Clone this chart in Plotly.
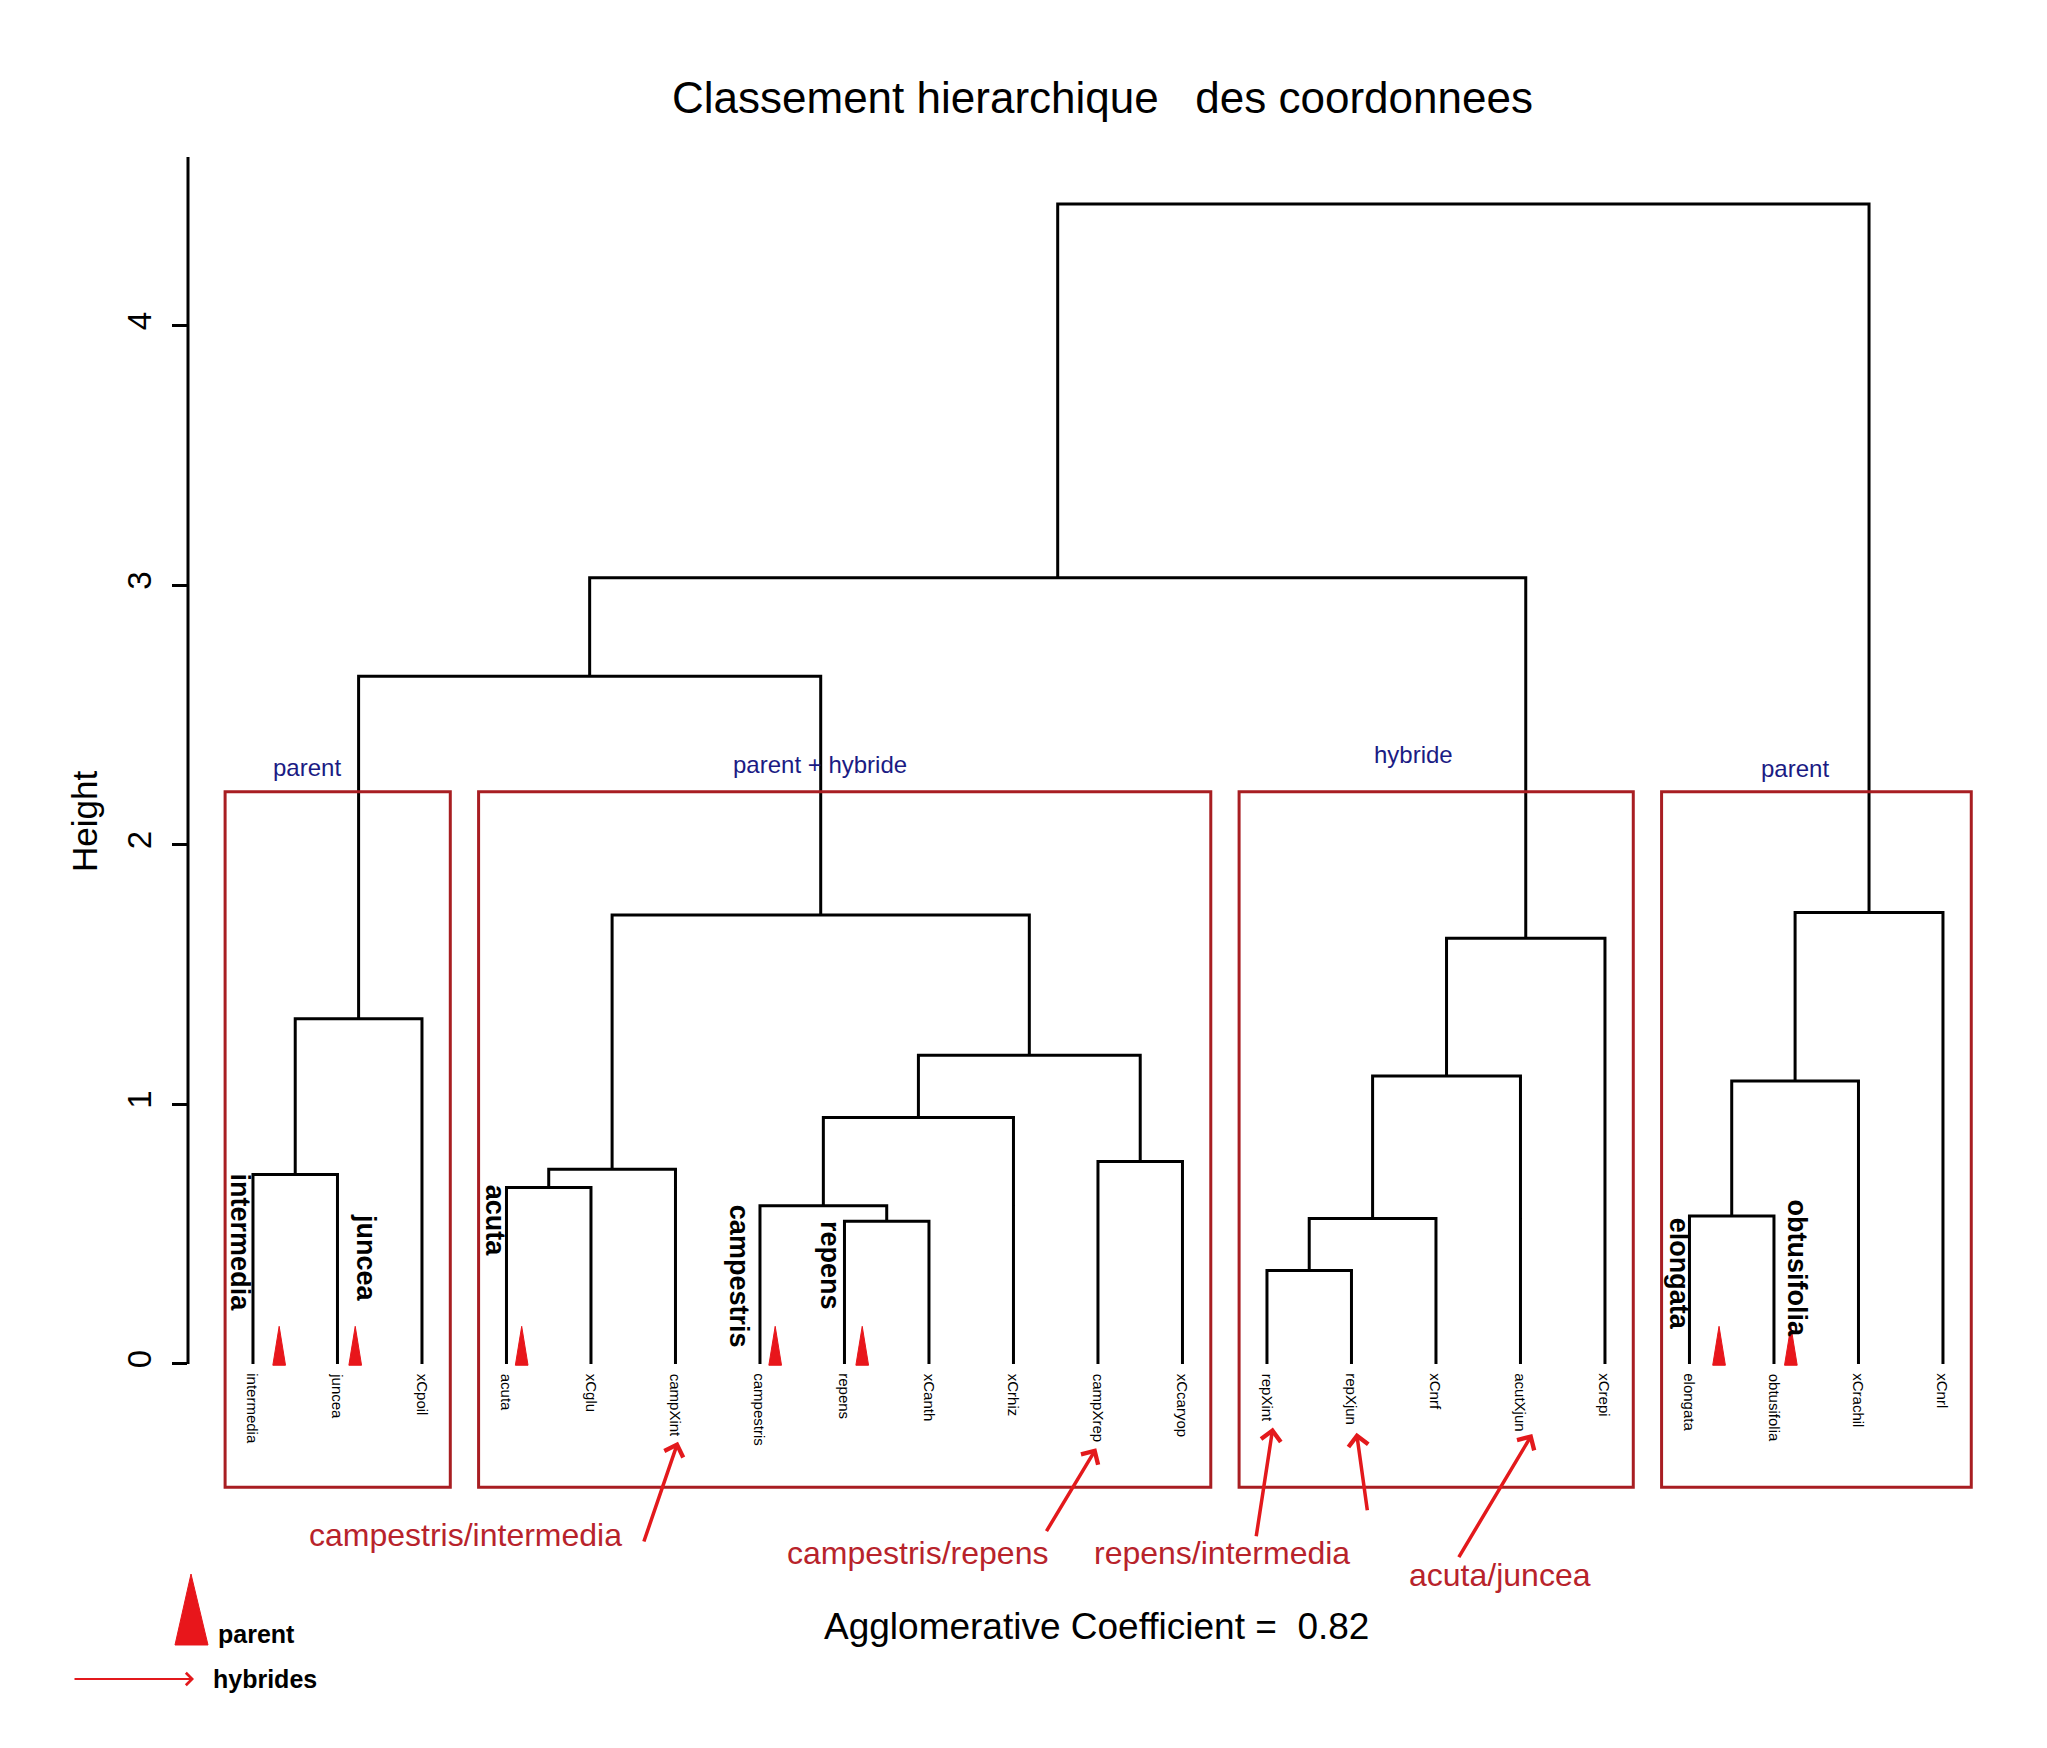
import plotly.graph_objects as go

# ---------------- data ----------------
leaf_labels = ["intermedia", "juncea", "xCpoil", "acuta", "xCglu", "campXint",
               "campestris", "repens", "xCanth", "xCrhiz", "campXrep", "xCcaryop",
               "repXint", "repXjun", "xCnrf", "acutXjun", "xCrepi",
               "elongata", "obtusifolia", "xCrachil", "xCnrl"]
# hclust-style merges: negative = leaf (1-based), positive = earlier merge (1-based)
merge_left = [-13, -8, 1, -18, -7, -4, -1, 6, -11, 5, 4, 3, 10, 7, 12, 8, 11, 14, 18, 19]
merge_right = [-14, -9, -15, -19, 2, -5, -2, -6, -12, -10, -20, -16, 9, -3, -17, 13, -21, 16, 15, 17]
merge_height = [0.36, 0.55, 0.56, 0.57, 0.61, 0.68, 0.73, 0.75, 0.78, 0.95,
                1.09, 1.11, 1.19, 1.33, 1.64, 1.73, 1.74, 2.65, 3.03, 4.47]

group_labels = ["parent", "parent + hybride", "hybride", "parent"]
group_first = ["intermedia", "acuta", "repXint", "elongata"]
group_last = ["xCpoil", "xCcaryop", "xCrepi", "xCnrl"]

parent_species = ["intermedia", "juncea", "acuta", "campestris", "repens", "elongata", "obtusifolia"]

hybrid_leaves = ["campXint", "campXrep", "repXint", "repXjun", "acutXjun"]
hybrid_texts = ["campestris/intermedia", "campestris/repens", "repens/intermedia", "acuta/juncea"]

agglomerative_coef = 0.82
y_ticks = [0, 1, 2, 3, 4]

title_text = "Classement hierarchique\u00a0\u00a0\u00a0des coordonnees"

# ---------------- geometry ----------------
W, H = 2047, 1748
OFF = 8                               # page body margin
L, R, T, B = 188, 2030, 157, 1700     # plot area in page px
x_range = [-0.769, 21.03]
y_range = [-1.295, 4.651]

pos = {name: i for i, name in enumerate(leaf_labels)}

def px_paper(px, py):
    return (px - L) / (R - L), (B - py) / (B - T)

# ---------------- dendrogram ----------------
node_x, node_h = [], []
def child(c):
    if c < 0:
        return float(-c - 1), 0.0
    return node_x[c - 1], node_h[c - 1]

xs, ys = [], []
for a, b, h in zip(merge_left, merge_right, merge_height):
    xa, ha = child(a)
    xb, hb = child(b)
    xs += [xa, xa, xb, xb, None]
    ys += [ha, h, h, hb, None]
    node_x.append((xa + xb) / 2)
    node_h.append(h)

fig = go.Figure()
fig.add_trace(go.Scatter(x=xs, y=ys, mode="lines",
                         line=dict(color="black", width=3),
                         hoverinfo="skip", showlegend=False))

annotations = []
shapes = []

FONT = "Liberation Sans, Arial, sans-serif"
BOX_RED = "#a81e22"
TXT_RED = "#b8232b"
ARR_RED = "#e3191c"
NAVY = "#1b1b84"

# leaf labels
for name in leaf_labels:
    annotations.append(dict(x=pos[name], y=-0.03, xref="x", yref="y", text=name,
                            textangle=90, showarrow=False, xanchor="center", yanchor="top",
                            font=dict(family=FONT, size=15, color="black")))

# y axis line
shapes.append(dict(type="line", xref="paper", yref="y", x0=0, x1=0, y0=0, y1=y_range[1],
                   line=dict(color="black", width=3)))

# red group boxes
for lab, f, l in zip(group_labels, group_first, group_last):
    shapes.append(dict(type="rect", xref="x", yref="y",
                       x0=pos[f] - 0.33, x1=pos[l] + 0.335, y0=-0.475, y1=2.205,
                       line=dict(color=BOX_RED, width=3)))

# blue group labels
group_label_xy = [(0.64, 2.30), (6.71, 2.31), (13.73, 2.35), (18.25, 2.295)]
for lab, (gx, gy) in zip(group_labels, group_label_xy):
    annotations.append(dict(x=gx, y=gy, xref="x", yref="y", text=lab, showarrow=False,
                            xanchor="center", yanchor="middle",
                            font=dict(family=FONT, size=24, color=NAVY)))

# big bold parent species names (rotated)
big_offsets = [(-0.15, 0.74), (0.34, 0.585), (-0.14, 0.70), (-0.24, 0.62),
               (-0.17, 0.56), (-0.12, 0.57), (0.27, 0.64)]
for name, (dx, top) in zip(parent_species, big_offsets):
    annotations.append(dict(x=pos[name] + dx, y=top, xref="x", yref="y",
                            text="<b>%s</b>" % name, textangle=90, showarrow=False,
                            xanchor="center", yanchor="top",
                            font=dict(family=FONT, size=27, color="black")))

# red triangles marking parents
tri_dx = [0.31, 0.21, 0.18, 0.18, 0.21, 0.35, 0.20]
tri_w, tri_h = 0.075, 0.145
for name, dx in zip(parent_species, tri_dx):
    cx = pos[name] + dx
    path = "M %f %f L %f %f L %f %f Z" % (cx - tri_w, -0.005, cx + tri_w, -0.005, cx, tri_h)
    shapes.append(dict(type="path", xref="x", yref="y", path=path,
                       fillcolor="#e8161b", line=dict(color="#e8161b", width=1)))

# hybrid arrows
arrow_geom = [  # (tip dx, tip y, tail x, tail y)
    (0.03, -0.30, 4.62, -0.69),
    (-0.02, -0.325, 9.38, -0.65),
    (0.07, -0.245, 11.87, -0.67),
    (0.06, -0.265, 13.19, -0.57),
    (0.14, -0.27, 14.26, -0.75),
]
for name, (dx, ty, ax, ay) in zip(hybrid_leaves, arrow_geom):
    annotations.append(dict(x=pos[name] + dx, y=ty, xref="x", yref="y",
                            ax=ax, ay=ay, axref="x", ayref="y", text="",
                            showarrow=True, arrowhead=4, arrowsize=1.1, arrowwidth=3.5,
                            arrowcolor=ARR_RED, standoff=0, startstandoff=0))

hybrid_text_xy = [(2.52, -0.66), (7.86, -0.73), (11.47, -0.73), (14.76, -0.815)]
for t, (hx, hy) in zip(hybrid_texts, hybrid_text_xy):
    annotations.append(dict(x=hx, y=hy, xref="x", yref="y", text=t, showarrow=False,
                            xanchor="center", yanchor="middle",
                            font=dict(family=FONT, size=32, color=TXT_RED)))

# agglomerative coefficient
annotations.append(dict(x=9.98, y=-1.01, xref="x", yref="y",
                        text="Agglomerative Coefficient =\u00a0\u00a0%.2f" % agglomerative_coef,
                        showarrow=False, xanchor="center", yanchor="middle",
                        font=dict(family=FONT, size=37, color="black")))

# title
tx, ty = px_paper(1102, 98)
annotations.append(dict(x=tx, y=ty, xref="paper", yref="paper", text=title_text,
                        showarrow=False, xanchor="center", yanchor="middle",
                        font=dict(family=FONT, size=44, color="black")))

# y axis title
hx, hy = px_paper(84, 822)
annotations.append(dict(x=hx, y=hy, xref="paper", yref="paper", text="Height",
                        textangle=-90, showarrow=False, xanchor="center", yanchor="middle",
                        font=dict(family=FONT, size=35, color="black")))

# legend: triangle + "parent"
ax_, ay_ = px_paper(191, 1574)
bl_x, bl_y = px_paper(175, 1645)
br_x, br_y = px_paper(208, 1645)
shapes.append(dict(type="path", xref="paper", yref="paper",
                   path="M %f %f L %f %f L %f %f Z" % (bl_x, bl_y, br_x, br_y, ax_, ay_),
                   fillcolor="#e8161b", line=dict(color="#e8161b", width=1)))
px_, py_ = px_paper(216, 1634)
annotations.append(dict(x=px_, y=py_, xref="paper", yref="paper", text="<b>parent</b>",
                        showarrow=False, xanchor="left", yanchor="middle",
                        font=dict(family=FONT, size=25, color="black")))
# legend: arrow + "hybrides"
tipx, tipy = px_paper(194, 1679)
annotations.append(dict(x=tipx, y=tipy, xref="paper", yref="paper", text="",
                        ax=-121, ay=0, showarrow=True, arrowhead=4, arrowsize=1.2,
                        arrowwidth=2, arrowcolor=ARR_RED, standoff=0))
hbx, hby = px_paper(211, 1679)
annotations.append(dict(x=hbx, y=hby, xref="paper", yref="paper", text="<b>hybrides</b>",
                        showarrow=False, xanchor="left", yanchor="middle",
                        font=dict(family=FONT, size=25, color="black")))

fig.update_layout(
    width=W, height=H,
    margin=dict(l=L - OFF, r=W - R + OFF, t=T - OFF, b=H - B + OFF, pad=0),
    paper_bgcolor="white", plot_bgcolor="white",
    showlegend=False,
    xaxis=dict(range=x_range, visible=False, fixedrange=True),
    yaxis=dict(range=y_range, tickvals=y_ticks, ticktext=[str(v) for v in y_ticks],
               ticks="outside", ticklen=15, tickwidth=3, tickcolor="black",
               tickangle=-90, tickfont=dict(family=FONT, size=33, color="black"),
               ticklabelstandoff=8,
               showgrid=False, zeroline=False, showline=False, fixedrange=True),
    annotations=annotations,
    shapes=shapes,
)

fig.write_html("out.html")
